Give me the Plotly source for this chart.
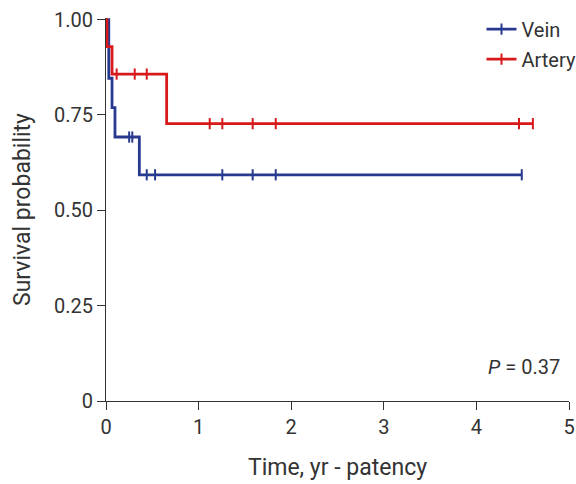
import plotly.graph_objects as go

# Kaplan-Meier step data
vein_time = [0, 0.03, 0.065, 0.097, 0.36, 4.49]
vein_surv = [1.0, 0.846, 0.769, 0.692, 0.593, 0.593]
vein_censor = [0.25, 0.284, 0.44, 0.53, 1.256, 1.584, 1.833, 4.49]

artery_time = [0, 0.01, 0.065, 0.655, 4.61]
artery_surv = [1.0, 0.929, 0.857, 0.727, 0.727]
artery_censor = [0.115, 0.31, 0.44, 1.12, 1.256, 1.584, 1.833, 4.46, 4.61]

x_ticks = [0, 1, 2, 3, 4, 5]
y_ticks = [0, 0.25, 0.5, 0.75, 1.0]
y_labels = ["0", "0.25", "0.50", "0.75", "1.00"]

BLUE = "#283a8f"
RED = "#d7191c"
FONT = "Roboto, sans-serif"
TXT = "#333333"


def surv_at(times, survs, t):
    s = survs[0]
    for ti, si in zip(times, survs):
        if ti <= t:
            s = si
    return s


fig = go.Figure()
for name, tt, ss, cc, col in [("Vein", vein_time, vein_surv, vein_censor, BLUE),
                              ("Artery", artery_time, artery_surv, artery_censor, RED)]:
    fig.add_trace(go.Scatter(x=tt, y=ss, mode="lines", line=dict(color=col, width=2.8, shape="hv"),
                             showlegend=False, hoverinfo="skip"))
    fig.add_trace(go.Scatter(x=cc, y=[surv_at(tt, ss, c) for c in cc], mode="markers",
                             marker=dict(symbol="line-ns", size=8, line=dict(color=col, width=2)),
                             showlegend=False, cliponaxis=False, hoverinfo="skip"))
    fig.add_trace(go.Scatter(x=[None], y=[None], mode="lines+markers", name=name,
                             line=dict(color=col, width=2.8),
                             marker=dict(symbol="line-ns", size=8, line=dict(color=col, width=2)),
                             legendgroup=name))

fig.update_layout(
    width=576, height=484,
    margin=dict(l=106, r=7, t=18, b=83, autoexpand=False),
    paper_bgcolor="white", plot_bgcolor="white",
    font=dict(family=FONT, size=20, color=TXT),
    legend=dict(x=0.811, y=1.022, xanchor="left", yanchor="top", bgcolor="rgba(0,0,0,0)",
                font=dict(size=20, color=TXT), traceorder="grouped", tracegroupgap=1),
    xaxis=dict(range=[0, 5], tickvals=x_ticks, showgrid=False, zeroline=False,
               showline=True, linecolor="#333333", linewidth=1,
               ticks="outside", ticklen=8, tickcolor="#333333",
               tickfont=dict(size=20),
               title=dict(text="Time, yr - patency", standoff=20, font=dict(size=23))),
    yaxis=dict(range=[0, 1.004], tickvals=y_ticks, ticktext=y_labels, showgrid=False, zeroline=False,
               showline=True, linecolor="#333333", linewidth=1,
               ticks="outside", ticklen=8, tickcolor="#333333",
               tickfont=dict(size=20),
               title=dict(text="Survival probability", standoff=16, font=dict(size=23))),
    annotations=[dict(x=0.985, y=0.09, xref="paper", yref="y", xanchor="right", yanchor="middle",
                      text="<i>P</i> = 0.37", showarrow=False, font=dict(size=20, color=TXT))],
)

fig.write_html("out.html", config={"displayModeBar": False},
               post_script="document.body.style.margin='0';")
